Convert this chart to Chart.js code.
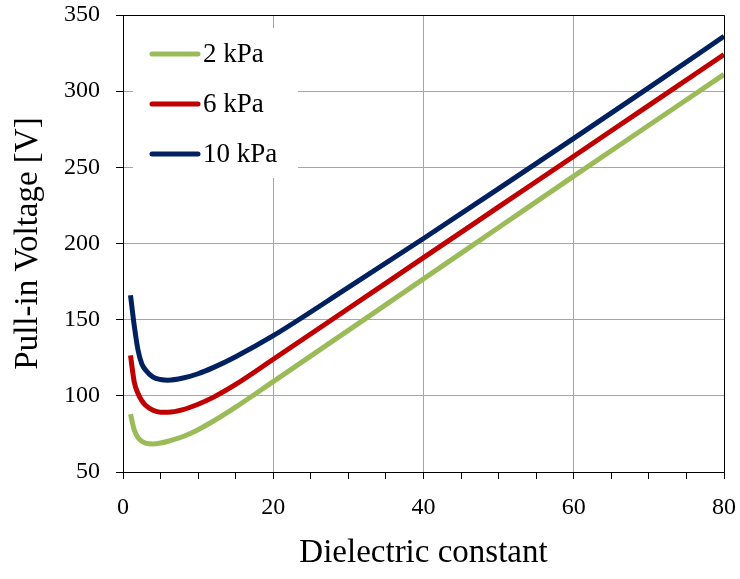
<!DOCTYPE html>
<html>
<head>
<meta charset="utf-8">
<script src="https://cdn.jsdelivr.net/npm/chart.js@4.4.1/dist/chart.umd.min.js"></script>
<style>
  html, body { margin: 0; padding: 0; background: #fff; }
  #c { display: block; }
</style>
</head>
<body>
<canvas id="c" width="740" height="579"></canvas>
<script>
// Dielectric constant (x values)
const dielectric = [1, 1.5, 2, 2.5, 3, 4, 5, 6, 8, 10, 12, 15, 20, 30, 40, 50, 60, 70, 80];
// Pull-in voltage [V] for each pressure
const v2kPa  = [88, 77.5, 72.5, 70.2, 69, 68.4, 69, 70.2, 73.3, 77.8, 83.3, 92.6, 109.3, 143, 176.8, 210.5, 244.2, 277.6, 311];
const v6kPa  = [126.5, 109, 101.5, 96.8, 93.8, 90.5, 89.3, 89.3, 91, 94.5, 99, 107.5, 124, 157.3, 190.7, 224, 257.3, 290.7, 324];
const v10kPa = [166, 146, 130, 121, 117, 112.3, 110.7, 110.3, 111.7, 114.5, 118.5, 125.7, 139.5, 171.2, 203.3, 236, 269, 302.3, 336];
const seriesLabels = ['2 kPa', '6 kPa', '10 kPa'];
const seriesColors = ['#9bbb59', '#c00000', '#002060'];
const xTicks = [0, 20, 40, 60, 80];
const yTicks = [50, 100, 150, 200, 250, 300, 350];

const FONT = "'Liberation Serif', 'Times New Roman', serif";
const GRID = '#a6a6a6';

function pts(vals) { return dielectric.map((x, i) => ({ x: x, y: vals[i] })); }

const datasets = [v2kPa, v6kPa, v10kPa].map((vals, i) => ({
  label: seriesLabels[i],
  data: pts(vals),
  borderColor: seriesColors[i],
  backgroundColor: seriesColors[i],
  borderWidth: 5,
  pointRadius: 0,
  cubicInterpolationMode: 'monotone',
  fill: false
}));

const framePlugin = {
  id: 'frame',
  afterDatasetsDraw(chart) {
    const { ctx, chartArea: a } = chart;
    ctx.save();
    ctx.strokeStyle = '#000';
    ctx.lineWidth = 1;
    ctx.beginPath();
    ctx.moveTo(Math.round(a.left) + 0.5, Math.round(a.top) + 0.5);
    ctx.lineTo(Math.round(a.right) + 0.5, Math.round(a.top) + 0.5);
    ctx.lineTo(Math.round(a.right) + 0.5, Math.round(a.bottom) + 0.5);
    ctx.stroke();
    ctx.restore();
  }
};

const legendPlugin = {
  id: 'inlegend',
  afterDatasetsDraw(chart) {
    const { ctx } = chart;
    ctx.save();
    ctx.fillStyle = '#fff';
    ctx.fillRect(133, 28, 165, 150);
    ctx.font = '27px ' + FONT;
    ctx.textBaseline = 'middle';
    ctx.textAlign = 'left';
    chart.data.datasets.forEach((ds, i) => {
      const y = 54 + i * 50;
      ctx.strokeStyle = ds.borderColor;
      ctx.lineWidth = 5;
      ctx.lineCap = 'round';
      ctx.beginPath();
      ctx.moveTo(152, y);
      ctx.lineTo(198, y);
      ctx.stroke();
      ctx.fillStyle = '#000';
      ctx.fillText(ds.label, 203, y + 1);
    });
    ctx.restore();
  }
};

new Chart(document.getElementById('c'), {
  type: 'line',
  data: { datasets },
  plugins: [framePlugin, legendPlugin],
  options: {
    responsive: false,
    animation: false,
    devicePixelRatio: 1,
    layout: { padding: { left: 0, right: 16, top: 15, bottom: 0 } },
    plugins: { legend: { display: false }, tooltip: { enabled: false } },
    scales: {
      x: {
        type: 'linear',
        min: 0, max: 80,
        afterFit(scale) {
          scale.height = 107;
          scale.paddingLeft = 0; scale.paddingRight = 0;
        },
        afterBuildTicks(scale) {
          const t = [];
          for (let v = 0; v <= 80; v += 5) t.push({ value: v });
          scale.ticks = t;
        },
        ticks: {
          autoSkip: false, maxRotation: 0, minRotation: 0,
          padding: 14,
          color: '#000',
          font: { family: FONT, size: 24 },
          callback: (v) => xTicks.includes(v) ? String(v) : ''
        },
        grid: {
          color: (c) => (c.tick && xTicks.includes(c.tick.value) && c.tick.value !== 0) ? GRID : 'rgba(0,0,0,0)',
          tickColor: '#000',
          tickLength: 7,
          lineWidth: 1
        },
        border: { color: '#000', width: 1 },
        title: {
          display: true,
          text: 'Dielectric constant',
          color: '#000',
          font: { family: FONT, size: 33 },
          padding: { top: 0, bottom: 6 }
        }
      },
      y: {
        type: 'linear',
        min: 50, max: 350,
        afterFit(scale) {
          scale.width = 123;
          scale.paddingTop = 0; scale.paddingBottom = 0;
        },
        afterBuildTicks(scale) { scale.ticks = yTicks.map(v => ({ value: v })); },
        ticks: {
          padding: 16,
          color: '#000',
          font: { family: FONT, size: 24 }
        },
        grid: {
          color: (c) => (c.tick && c.tick.value !== 50) ? GRID : 'rgba(0,0,0,0)',
          tickColor: '#000',
          tickLength: 7,
          lineWidth: 1
        },
        border: { color: '#000', width: 1 },
        title: {
          display: true,
          text: 'Pull-in Voltage [V]',
          color: '#000',
          font: { family: FONT, size: 33 },
          padding: { top: 9, bottom: 0 }
        }
      }
    }
  }
});
</script>
</body>
</html>
